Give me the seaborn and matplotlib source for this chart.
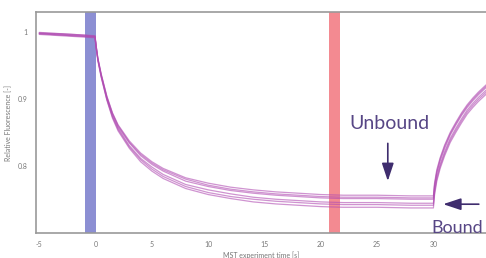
import seaborn as sns
import matplotlib.pyplot as plt
import pandas as pd

sns.set_style("white")
plt.rcParams["font.family"] = ["Lato", "DejaVu Sans"]

# MST time points [s]
time_s = [-5, -3, -1, -0.05, 0.05, 0.2, 0.5, 1, 1.5, 2,
          3, 4, 5, 6, 8, 10, 12, 14, 16, 18,
          20, 22, 25, 28, 30, 30.1, 30.3, 30.6, 31, 31.5,
          32, 32.5, 33, 33.5, 34, 34.7]

# Relative fluorescence traces (upper bundle: A-C, lower bundle: D-F)
trace_a = [1.000, 0.998, 0.996, 0.995, 0.980, 0.962, 0.938, 0.905, 0.880, 0.862,
           0.838, 0.820, 0.807, 0.797, 0.783, 0.775, 0.769, 0.765, 0.762, 0.760,
           0.758, 0.757, 0.757, 0.756, 0.756, 0.775, 0.795, 0.813, 0.832, 0.851,
           0.866, 0.880, 0.892, 0.902, 0.911, 0.922]
trace_b = [0.999, 0.998, 0.996, 0.994, 0.980, 0.961, 0.937, 0.904, 0.879, 0.861,
           0.836, 0.818, 0.805, 0.795, 0.781, 0.772, 0.766, 0.762, 0.759, 0.757,
           0.755, 0.754, 0.754, 0.753, 0.753, 0.772, 0.792, 0.811, 0.830, 0.849,
           0.864, 0.878, 0.890, 0.900, 0.909, 0.920]
trace_c = [0.999, 0.997, 0.995, 0.994, 0.979, 0.961, 0.936, 0.903, 0.878, 0.859,
           0.835, 0.816, 0.803, 0.793, 0.778, 0.770, 0.764, 0.760, 0.757, 0.755,
           0.753, 0.752, 0.752, 0.751, 0.751, 0.770, 0.790, 0.808, 0.827, 0.847,
           0.862, 0.876, 0.888, 0.898, 0.907, 0.918]
trace_d = [0.998, 0.996, 0.994, 0.993, 0.978, 0.960, 0.935, 0.901, 0.875, 0.857,
           0.831, 0.812, 0.799, 0.788, 0.773, 0.765, 0.759, 0.754, 0.751, 0.749,
           0.747, 0.746, 0.746, 0.745, 0.745, 0.764, 0.785, 0.803, 0.822, 0.842,
           0.857, 0.871, 0.884, 0.894, 0.903, 0.914]
trace_e = [0.998, 0.996, 0.994, 0.993, 0.978, 0.959, 0.934, 0.900, 0.874, 0.855,
           0.829, 0.810, 0.796, 0.785, 0.770, 0.761, 0.755, 0.751, 0.748, 0.746,
           0.744, 0.743, 0.743, 0.742, 0.742, 0.761, 0.781, 0.800, 0.819, 0.839,
           0.854, 0.868, 0.881, 0.891, 0.900, 0.911]
trace_f = [0.997, 0.995, 0.993, 0.992, 0.977, 0.958, 0.933, 0.899, 0.872, 0.853,
           0.827, 0.807, 0.793, 0.782, 0.767, 0.758, 0.752, 0.747, 0.744, 0.742,
           0.740, 0.739, 0.739, 0.738, 0.738, 0.757, 0.778, 0.797, 0.816, 0.836,
           0.851, 0.865, 0.878, 0.888, 0.897, 0.908]

traces = {"A": trace_a, "B": trace_b, "C": trace_c,
          "D": trace_d, "E": trace_e, "F": trace_f}

x_ticks = [-5, 0, 5, 10, 15, 20, 25, 30]
y_ticks = [0.8, 0.9, 1.0]
y_tick_labels = ["0.8", "0.9", "1"]

# cold / hot analysis windows [s]
cold_window = (-0.9, 0.05)
hot_window = (20.7, 21.7)

df = pd.concat(
    [pd.DataFrame({"time": time_s, "fluor": vals, "trace": name})
     for name, vals in traces.items()],
    ignore_index=True,
)

fig = plt.figure(figsize=(4.86, 2.58), dpi=100)
ax = fig.add_axes([36 / 486, 25 / 258, 1 - 36 / 486, (233 - 12.3) / 258])

ax.axvspan(*cold_window, color="#8c8fd3", lw=0, zorder=0)
ax.axvspan(*hot_window, color="#f38a91", lw=0, zorder=0)

sns.lineplot(data=df, x="time", y="fluor", units="trace", estimator=None,
             color="#b04cb2", lw=0.9, alpha=0.6, ax=ax, zorder=2)

ax.set_xlim(-5.29, 34.67)
ax.set_ylim(0.7006, 1.030)
ax.set_xticks(x_ticks)
ax.set_xticklabels([str(t) for t in x_ticks])
ax.set_yticks(y_ticks)
ax.set_yticklabels(y_tick_labels)
ax.tick_params(axis="both", direction="out", length=3, width=0.8,
               colors="#999999", labelsize=5, labelcolor="#777777", pad=3)
ax.set_xlabel("MST experiment time [s]", fontsize=5, color="#777777", labelpad=2)
ax.set_ylabel("Relative Fluorescence [-]", fontsize=5, color="#777777", labelpad=4)

for side in ["left", "bottom", "top"]:
    ax.spines[side].set_color("#999999")
    ax.spines[side].set_linewidth(1.2)
ax.spines["right"].set_visible(False)

arrow_color = "#3f2d6e"
text_color = "#574685"
arrow_style = "-|>,head_length=0.9,head_width=0.3"

ax.annotate("", xy=(25.95, 0.774), xytext=(25.95, 0.8385),
            arrowprops=dict(arrowstyle=arrow_style, mutation_scale=12, lw=1.2,
                            color=arrow_color))
ax.text(26.08, 0.8565, "Unbound", ha="center", va="baseline", fontsize=14,
        color=text_color)

ax.annotate("", xy=(30.62, 0.7436), xytext=(34.28, 0.7436),
            arrowprops=dict(arrowstyle=arrow_style, mutation_scale=12, lw=1.2,
                            color=arrow_color), annotation_clip=False)
ax.text(29.8, 0.7006, "Bound", ha="left", va="baseline", fontsize=13,
        color=text_color, clip_on=False)

fig.savefig("out.png", dpi=100)
plt.close(fig)
